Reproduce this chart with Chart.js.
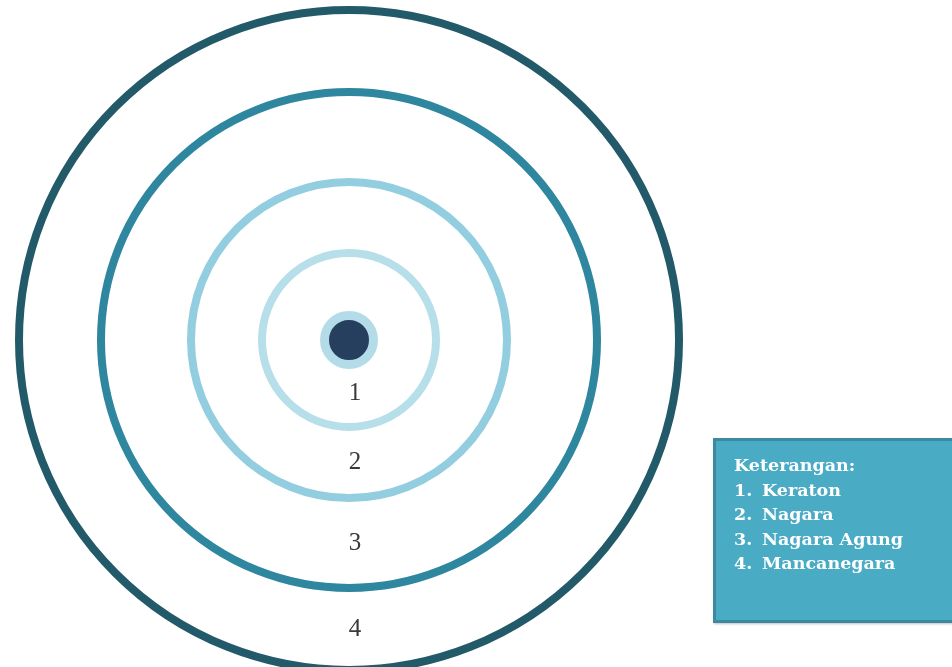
<!DOCTYPE html>
<html>
<head>
<meta charset="utf-8">
<script src="https://cdn.jsdelivr.net/npm/chart.js@4"></script>
<style>
    body { margin: 0; background: #ffffff; overflow: hidden; }
    #wrap { position: relative; width: 952px; height: 667px; }
    #chart-canvas { position: absolute; left: 0; top: 0; }
    .keterangan {
        position: absolute;
        left: 713px;
        top: 438px;
        width: 260px;
        height: 167px;
        background: #4aabc5;
        border: 3px solid #3b8aa0;
        box-shadow: 1px 1px 2px rgba(0, 0, 0, 0.25);
        box-sizing: content-box;
        padding: 12px 0 0 18px;
        color: #ffffff;
        font-family: "DejaVu Serif", serif;
        font-weight: bold;
        font-size: 17.5px;
        line-height: 24.5px;
    }
    .keterangan ol { list-style: none; margin: 0; padding: 0; }
    .keterangan .num { display: inline-block; width: 28px; }
</style>
</head>
<body>
<div id="wrap">
    <canvas id="chart-canvas" width="952" height="667"></canvas>
    <div class="keterangan">
        <div id="legend-title"></div>
        <ol id="legend-list"></ol>
    </div>
</div>
<script>
// ring labels and radius of each ring (in px, 1 unit = 1 px on the scales)
const ringLabels = ["1", "2", "3", "4"];
const ringRadii = [87, 158, 248, 330];
const ringColors = ["#b6dfea", "#93cee0", "#2e869f", "#235a6a"];
const dotRadius = 20;
const haloWidth = 9;
const legendTitle = "Keterangan:";
const legendItems = ["Keraton", "Nagara", "Nagara Agung", "Mancanegara"];

document.getElementById("legend-title").textContent = legendTitle;
const list = document.getElementById("legend-list");
legendItems.forEach((name, i) => {
    const li = document.createElement("li");
    li.innerHTML = '<span class="num">' + (i + 1) + '.</span>' + name;
    list.appendChild(li);
});

const datasets = ringRadii.map((r, i) => ({
    label: ringLabels[i],
    data: [{ x: 0, y: 0, r: r }],
    backgroundColor: "rgba(0,0,0,0)",
    borderColor: ringColors[i],
    borderWidth: 8,
    clip: false
}));

// dark dot with light halo in the middle
datasets.push({
    label: "core",
    data: [{ x: 0, y: 0, r: dotRadius + haloWidth / 2 }],
    backgroundColor: "#263f5e",
    borderColor: "#b3dce8",
    borderWidth: haloWidth,
    clip: false
});

// numbers sit half way between two rings, just below the centre
const ringNumbers = {
    id: "ringNumbers",
    afterDatasetsDraw(chart) {
        const ctx = chart.ctx;
        const xs = chart.scales.x;
        const ys = chart.scales.y;
        ctx.save();
        ctx.font = "25px 'Liberation Serif', serif";
        ctx.fillStyle = "#3a3a3a";
        ctx.textAlign = "center";
        ctx.textBaseline = "middle";
        ringLabels.forEach((lbl, i) => {
            const inner = i === 0 ? dotRadius : ringRadii[i - 1];
            const mid = (inner + ringRadii[i]) / 2;
            ctx.fillText(lbl, xs.getPixelForValue(6), ys.getPixelForValue(-mid));
        });
        ctx.restore();
    }
};

new Chart(document.getElementById("chart-canvas"), {
    type: "bubble",
    data: { datasets: datasets },
    options: {
        responsive: false,
        animation: false,
        events: [],
        layout: { autoPadding: false, padding: 0 },
        plugins: {
            legend: { display: false },
            tooltip: { enabled: false }
        },
        scales: {
            x: { display: false, min: -349, max: 603 },
            y: { display: false, min: -327, max: 340 }
        }
    },
    plugins: [ringNumbers]
});
</script>
</body>
</html>
